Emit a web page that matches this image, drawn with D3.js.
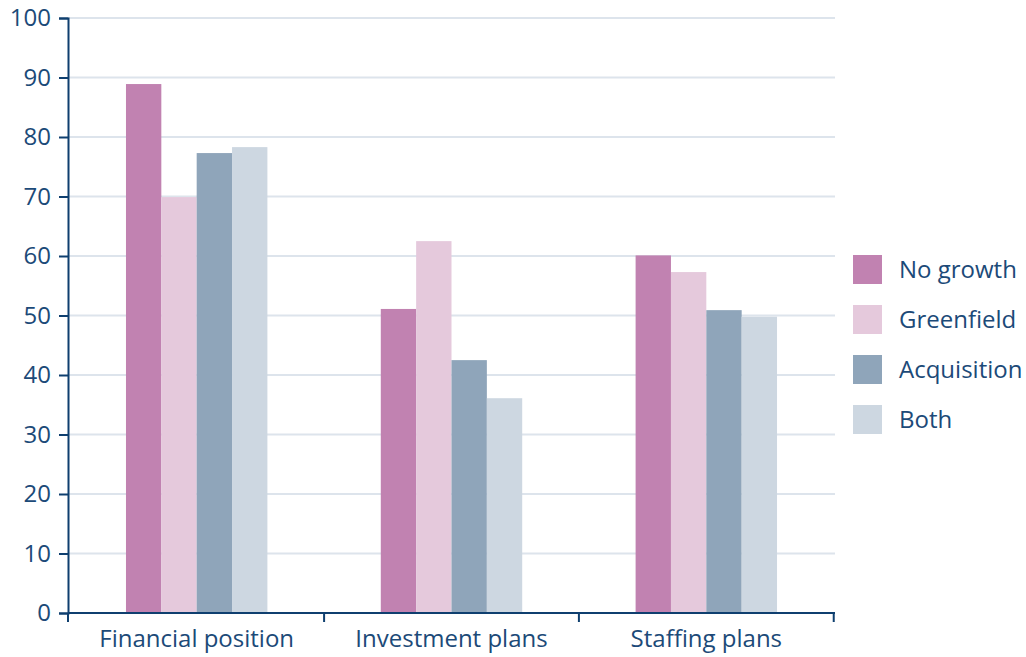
<!DOCTYPE html>
<html>
<head>
<meta charset="utf-8">
<script src="https://cdn.jsdelivr.net/npm/d3@7"></script>
<style>
  html, body { margin: 0; padding: 0; background: #fff; }
  svg text { font-family: "Open Sans", "Noto Sans", sans-serif; fill: #1c4a78; }
</style>
</head>
<body>
<svg id="chart" width="1026" height="657"></svg>
<script>
// Share of firms citing each factor, by growth strategy (%)
const categories = ["Financial position", "Investment plans", "Staffing plans"];
const seriesNames = ["No growth", "Greenfield", "Acquisition", "Both"];
const noGrowth    = [88.9, 51.1, 60.1];
const greenfield  = [69.9, 62.5, 57.3];
const acquisition = [77.3, 42.5, 50.9];
const both        = [78.3, 36.1, 49.8];
const yTicks = [0, 10, 20, 30, 40, 50, 60, 70, 80, 90, 100];
const colors = ["#c182b1", "#e5c9dc", "#8fa5ba", "#cdd7e1"];

const seriesValues = [noGrowth, greenfield, acquisition, both];

const svg = d3.select("#chart");
const margin = { left: 68, right: 191, top: 18, bottom: 44 };
const W = 1026, H = 657;
const axisColor = "#0f3f6f";
const fontSize = 24;

const x0 = d3.scaleBand()
  .domain(categories)
  .range([margin.left, W - margin.right])
  .paddingInner(0.445)
  .paddingOuter(0.2275);

const x1 = d3.scaleBand()
  .domain(seriesNames)
  .range([0, x0.bandwidth()]);

const y = d3.scaleLinear()
  .domain([0, 100])
  .range([H - margin.bottom, margin.top]);

// horizontal gridlines
svg.append("g")
  .selectAll("line")
  .data(yTicks.filter(t => t > 0))
  .join("line")
  .attr("x1", margin.left)
  .attr("x2", W - margin.right)
  .attr("y1", d => y(d))
  .attr("y2", d => y(d))
  .attr("stroke", "#dde4ec")
  .attr("stroke-width", 2);

// bars
const groups = svg.append("g")
  .selectAll("g")
  .data(categories)
  .join("g")
  .attr("transform", d => `translate(${x0(d)},0)`);

groups.selectAll("rect")
  .data((c, i) => seriesNames.map((s, j) => ({ s, v: seriesValues[j][i], j })))
  .join("rect")
  .attr("x", d => x1(d.s))
  .attr("width", x1.bandwidth())
  .attr("y", d => y(d.v))
  .attr("height", d => y(0) - y(d.v))
  .attr("fill", d => colors[d.j]);

// y axis
const yAxis = svg.append("g")
  .attr("transform", `translate(${margin.left},0)`)
  .call(d3.axisLeft(y).tickValues(yTicks).tickSize(9).tickPadding(8));
yAxis.select(".domain").attr("stroke", axisColor).attr("stroke-width", 2);
yAxis.selectAll(".tick line").attr("stroke", axisColor).attr("stroke-width", 2);
yAxis.selectAll(".tick text")
  .attr("font-size", fontSize)
  .attr("fill", "#1c4a78")
  .style("font-family", "'Open Sans', sans-serif");

// x axis: ticks mark the category boundaries
const xBounds = [margin.left].concat(categories.map(c => x0(c) + x0.bandwidth() / 2 + x0.step() / 2));
const xAxis = svg.append("g");
xAxis.append("line")
  .attr("x1", margin.left)
  .attr("x2", W - margin.right)
  .attr("y1", y(0))
  .attr("y2", y(0))
  .attr("stroke", axisColor)
  .attr("stroke-width", 2);
xAxis.selectAll("line.tick")
  .data(xBounds)
  .join("line")
  .attr("class", "tick")
  .attr("x1", d => d)
  .attr("x2", d => d)
  .attr("y1", y(0))
  .attr("y2", y(0) + 9)
  .attr("stroke", axisColor)
  .attr("stroke-width", 2);
xAxis.selectAll("text")
  .data(categories)
  .join("text")
  .attr("x", d => x0(d) + x0.bandwidth() / 2)
  .attr("y", y(0) + 34)
  .attr("text-anchor", "middle")
  .attr("font-size", fontSize)
  .text(d => d);

// legend
const legend = svg.append("g")
  .selectAll("g")
  .data(seriesNames)
  .join("g")
  .attr("transform", (d, i) => `translate(853,${255 + i * 50})`);
legend.append("rect")
  .attr("width", 29)
  .attr("height", 29)
  .attr("fill", (d, i) => colors[i]);
legend.append("text")
  .attr("x", 46)
  .attr("y", 23)
  .attr("font-size", fontSize)
  .text(d => d);
</script>
</body>
</html>
